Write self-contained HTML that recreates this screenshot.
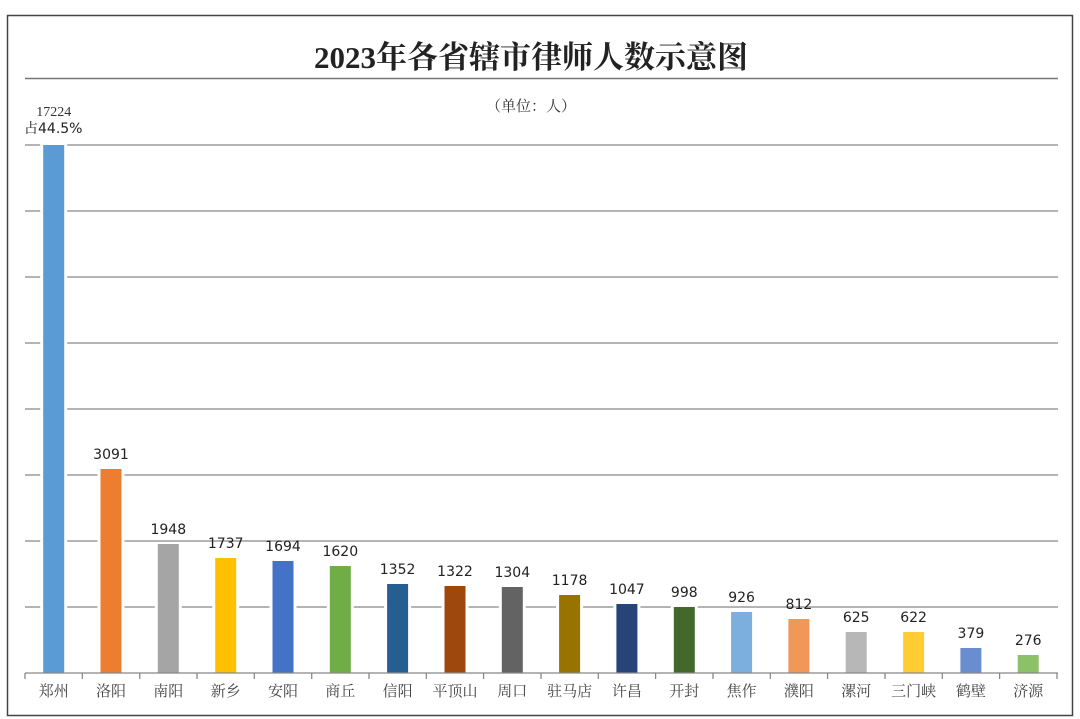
<!DOCTYPE html>
<html><head><meta charset="utf-8"><style>
html,body{margin:0;padding:0;background:#fff;}
svg{display:block;}
</style></head><body>
<svg width="1080" height="719" xmlns="http://www.w3.org/2000/svg">
<rect x="7.5" y="15.5" width="1065" height="700" fill="#fff" stroke="#444" stroke-width="1.5"/>
<text x="531" y="68" text-anchor="middle" font-family="'Liberation Serif','Noto Serif CJK SC',serif" font-weight="bold" font-size="31" fill="#222">2023年各省辖市律师人数示意图</text>
<line x1="25" y1="78.5" x2="1058" y2="78.5" stroke="#777" stroke-width="1.5"/>
<text x="531" y="111" text-anchor="middle" font-family="'Liberation Serif','Noto Serif CJK SC',serif" font-size="15" fill="#333">（单位：人）</text>
<g stroke="#888" stroke-width="1.3">
<line x1="25" y1="145" x2="1058" y2="145"/>
<line x1="25" y1="211" x2="1058" y2="211"/>
<line x1="25" y1="277" x2="1058" y2="277"/>
<line x1="25" y1="343" x2="1058" y2="343"/>
<line x1="25" y1="409" x2="1058" y2="409"/>
<line x1="25" y1="475" x2="1058" y2="475"/>
<line x1="25" y1="541" x2="1058" y2="541"/>
<line x1="25" y1="607" x2="1058" y2="607"/>
</g>
<g fill="#fff">
<rect x="40.2" y="144" width="27" height="529"/>
<rect x="97.5" y="468" width="27" height="205"/>
<rect x="154.8" y="543" width="27" height="130"/>
<rect x="212.2" y="557" width="27" height="116"/>
<rect x="269.5" y="560" width="27" height="113"/>
<rect x="326.8" y="565" width="27" height="108"/>
<rect x="384.1" y="583" width="27" height="90"/>
<rect x="441.5" y="585" width="27" height="88"/>
<rect x="498.8" y="586" width="27" height="87"/>
<rect x="556.1" y="594" width="27" height="79"/>
<rect x="613.4" y="603" width="27" height="70"/>
<rect x="670.8" y="606" width="27" height="67"/>
<rect x="728.1" y="611" width="27" height="62"/>
<rect x="785.4" y="618" width="27" height="55"/>
</g>
<rect x="43.2" y="145" width="21" height="528" fill="#5B9BD5"/>
<rect x="100.5" y="469" width="21" height="204" fill="#ED7D31"/>
<rect x="157.8" y="544" width="21" height="129" fill="#A5A5A5"/>
<rect x="215.2" y="558" width="21" height="115" fill="#FFC000"/>
<rect x="272.5" y="561" width="21" height="112" fill="#4472C4"/>
<rect x="329.8" y="566" width="21" height="107" fill="#70AD47"/>
<rect x="387.1" y="584" width="21" height="89" fill="#255E91"/>
<rect x="444.5" y="586" width="21" height="87" fill="#9E480E"/>
<rect x="501.8" y="587" width="21" height="86" fill="#636363"/>
<rect x="559.1" y="595" width="21" height="78" fill="#997300"/>
<rect x="616.4" y="604" width="21" height="69" fill="#264478"/>
<rect x="673.8" y="607" width="21" height="66" fill="#43682B"/>
<rect x="731.1" y="612" width="21" height="61" fill="#7CAFDD"/>
<rect x="788.4" y="619" width="21" height="54" fill="#F1975A"/>
<rect x="845.7" y="632" width="21" height="41" fill="#B7B7B7"/>
<rect x="903.1" y="632" width="21" height="41" fill="#FFCD33"/>
<rect x="960.4" y="648" width="21" height="25" fill="#698ED0"/>
<rect x="1017.7" y="655" width="21" height="18" fill="#8CC168"/>
<g stroke="#888" stroke-width="1.3">
<line x1="25" y1="673" x2="1058" y2="673"/>
<line x1="25" y1="673" x2="25" y2="679"/><line x1="82.3" y1="673" x2="82.3" y2="679"/><line x1="139.7" y1="673" x2="139.7" y2="679"/><line x1="197" y1="673" x2="197" y2="679"/><line x1="254.3" y1="673" x2="254.3" y2="679"/><line x1="311.7" y1="673" x2="311.7" y2="679"/><line x1="369" y1="673" x2="369" y2="679"/><line x1="426.3" y1="673" x2="426.3" y2="679"/><line x1="483.6" y1="673" x2="483.6" y2="679"/><line x1="541" y1="673" x2="541" y2="679"/><line x1="598.3" y1="673" x2="598.3" y2="679"/><line x1="655.6" y1="673" x2="655.6" y2="679"/><line x1="713" y1="673" x2="713" y2="679"/><line x1="770.3" y1="673" x2="770.3" y2="679"/><line x1="827.6" y1="673" x2="827.6" y2="679"/><line x1="885" y1="673" x2="885" y2="679"/><line x1="942.3" y1="673" x2="942.3" y2="679"/><line x1="999.6" y1="673" x2="999.6" y2="679"/><line x1="1057" y1="673" x2="1057" y2="679"/>
</g>
<g font-family="'DejaVu Sans',sans-serif" font-size="14" fill="#222" text-anchor="middle">
<text x="111" y="459">3091</text>
<text x="168.3" y="534">1948</text>
<text x="225.7" y="548">1737</text>
<text x="283" y="551">1694</text>
<text x="340.3" y="556">1620</text>
<text x="397.6" y="574">1352</text>
<text x="455" y="576">1322</text>
<text x="512.3" y="577">1304</text>
<text x="569.6" y="585">1178</text>
<text x="626.9" y="594">1047</text>
<text x="684.3" y="597">998</text>
<text x="741.6" y="602">926</text>
<text x="798.9" y="609">812</text>
<text x="856.2" y="622">625</text>
<text x="913.6" y="622">622</text>
<text x="970.9" y="638">379</text>
<text x="1028.2" y="645">276</text>
</g>
<text x="53.7" y="116" text-anchor="middle" font-family="'Liberation Serif',serif" font-size="14" fill="#333">17224</text>
<text x="24" y="133" font-family="'Noto Serif CJK SC',serif" font-size="14" fill="#222">占</text>
<text x="38" y="133" font-family="'DejaVu Sans',sans-serif" font-size="14" fill="#222">44.5%</text>
<g font-family="'Noto Serif CJK SC',serif" font-size="15" fill="#444" text-anchor="middle">
<text x="53.7" y="696">郑州</text>
<text x="111" y="696">洛阳</text>
<text x="168.3" y="696">南阳</text>
<text x="225.7" y="696">新乡</text>
<text x="283" y="696">安阳</text>
<text x="340.3" y="696">商丘</text>
<text x="397.6" y="696">信阳</text>
<text x="455" y="696">平顶山</text>
<text x="512.3" y="696">周口</text>
<text x="569.6" y="696">驻马店</text>
<text x="626.9" y="696">许昌</text>
<text x="684.3" y="696">开封</text>
<text x="741.6" y="696">焦作</text>
<text x="798.9" y="696">濮阳</text>
<text x="856.2" y="696">漯河</text>
<text x="913.6" y="696">三门峡</text>
<text x="970.9" y="696">鹤壁</text>
<text x="1028.2" y="696">济源</text>
</g>
</svg>
</body></html>
